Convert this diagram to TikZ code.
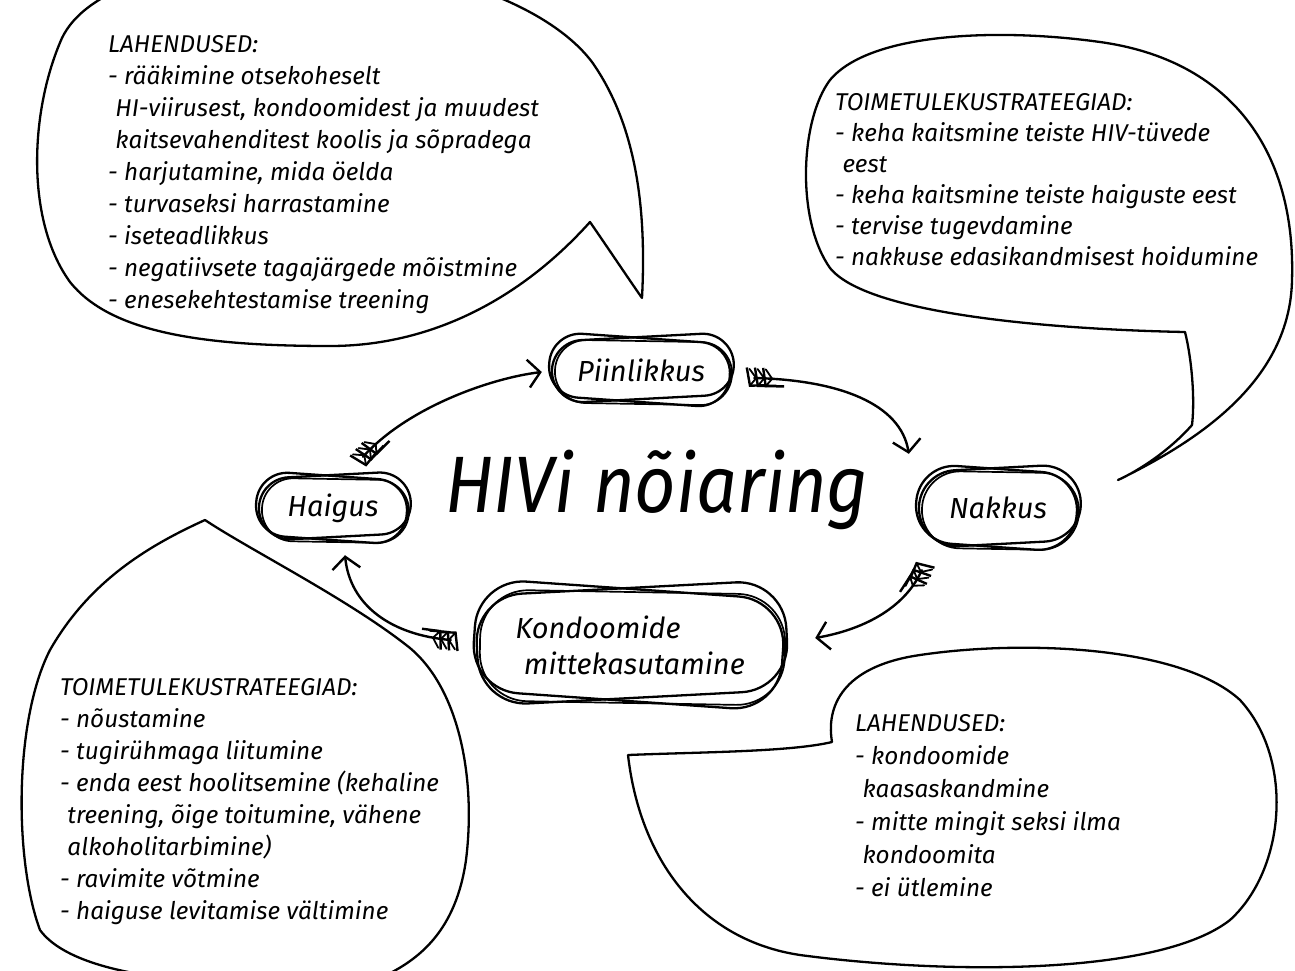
\documentclass[tikz,border=0pt]{standalone}
\usepackage{fontspec}
\setmainfont{Fira Sans}
\usetikzlibrary{arrows.meta,decorations.markings,calc}

% one pair of feather strokes at the tail of a cycle arrow
\newcommand\featherv{\draw[line width=1.8pt, line cap=round] (-7,-9) -- (0,0) -- (-7,9);}

\tikzset{
  inkline/.style={line width=2.2pt, line cap=round, line join=round},
  bubble/.style={inkline, line width=2.3pt},
  loopline/.style={line width=2.3pt, line cap=round, rounded corners=#1},
  listtext/.style={anchor=north west, inner sep=0pt, align=left,
    font=\fontsize{24.3}{32}\selectfont\itshape},
  nodetext/.style={inner sep=0pt, align=left,
    font=\fontsize{29}{36}\selectfont\itshape},
  cyclearrow/.style={inkline, line width=2.4pt,
    -{Straight Barb[length=12pt,width=28pt,line width=2.4pt]},
    postaction={decorate},
    decoration={markings,
      mark=at position 2pt with {\featherv},
      mark=at position 10pt with {\featherv},
      mark=at position 18pt with {\featherv}}},
}

\begin{document}
\begin{tikzpicture}[x=1pt,y=-1pt]
\useasboundingbox (0,0) rectangle (1295,970);
\clip (0,0) rectangle (1295,970);
\fill[white] (0,0) rectangle (1295,970);

% ---------- speech bubbles ----------
% upper left, tail pointing down to "Piinlikkus"
\draw[bubble] (642,298) .. controls (646,220) and (640,130) .. (592,62)
  .. controls (545,0) and (420,-40) .. (300,-40)
  .. controls (170,-40) and (85,-10) .. (62,38)
  .. controls (30,110) and (25,220) .. (70,282)
  .. controls (110,332) and (200,346) .. (330,346)
  .. controls (430,346) and (520,300) .. (590,222)
  .. controls (608,248) and (628,278) .. (642,298);

% upper right, tail pointing down to "Nakkus"
\draw[bubble] (1118,480) .. controls (1200,440) and (1290,380) .. (1292,280)
  .. controls (1296,150) and (1230,60) .. (1100,42)
  .. controls (1000,28) and (870,32) .. (830,80)
  .. controls (800,120) and (796,220) .. (830,268)
  .. controls (870,318) and (1080,330) .. (1185,332)
  .. controls (1192,360) and (1195,400) .. (1192,425)
  .. controls (1170,450) and (1140,470) .. (1118,480);

% lower left, tail pointing up to "Haigus"
\draw[bubble] (205,520) .. controls (250,550) and (350,600) .. (410,648)
  .. controls (460,690) and (476,780) .. (466,860)
  .. controls (456,930) and (420,960) .. (380,978)
  .. controls (250,990) and (80,985) .. (40,930)
  .. controls (14,860) and (14,720) .. (50,650)
  .. controls (90,580) and (150,545) .. (205,520);

% lower right, tail pointing up to "Kondoomide mittekasutamine"
\draw[bubble] (628,755) .. controls (700,752) and (790,752) .. (832,742)
  .. controls (825,700) and (850,665) .. (920,655)
  .. controls (1020,640) and (1180,645) .. (1240,700)
  .. controls (1295,760) and (1285,870) .. (1230,920)
  .. controls (1160,975) and (950,975) .. (800,955)
  .. controls (700,940) and (640,860) .. (628,755);

% ---------- bubble texts ----------
\node[listtext] (tl) at (108,35) {LAHENDUSED:\\
- rääkimine otsekoheselt\\
\hspace*{0.3em}HI-viirusest, kondoomidest ja muudest\\
\hspace*{0.3em}kaitsevahenditest koolis ja sõpradega\\
- harjutamine, mida öelda\\
- turvaseksi harrastamine\\
- iseteadlikkus\\
- negatiivsete tagajärgede mõistmine\\
- enesekehtestamise treening};

\node[listtext, font=\fontsize{24.3}{31}\selectfont\itshape] (tr) at (835,93) {TOIMETULEKUSTRATEEGIAD:\\
- keha kaitsmine teiste HIV-tüvede\\
\hspace*{0.3em}eest\\
- keha kaitsmine teiste haiguste eest\\
- tervise tugevdamine\\
- nakkuse edasikandmisest hoidumine};

\node[listtext] (bl) at (60,678) {TOIMETULEKUSTRATEEGIAD:\\
- nõustamine\\
- tugirühmaga liitumine\\
- enda eest hoolitsemine (kehaline\\
\hspace*{0.3em}treening, õige toitumine, vähene\\
\hspace*{0.3em}alkoholitarbimine)\\
- ravimite võtmine\\
- haiguse levitamise vältimine};

\node[listtext, font=\fontsize{24.3}{33}\selectfont\itshape] (br) at (855,714) {LAHENDUSED:\\
- kondoomide\\
\hspace*{0.3em}kaasaskandmine\\
- mitte mingit seksi ilma\\
\hspace*{0.3em}kondoomita\\
- ei ütlemine};

% ---------- title ----------
\node[inner sep=0pt, font=\fontsize{80}{84}\selectfont\itshape, xscale=0.9] (title) at (657,490) {HIVi nõiaring};

% ---------- cycle nodes ----------
\node[nodetext, minimum width=186pt, minimum height=66pt] (pi) at (641,370) {Piinlikkus};
\node[nodetext, minimum width=156pt, minimum height=66pt] (ha) at (333,508) {Haigus};
\node[nodetext, minimum width=166pt, minimum height=80pt] (na) at (998,508) {Nakkus};
\node[nodetext, minimum width=314pt, minimum height=114pt] (ko) at (630,645) {Kondoomide\\\hspace*{0.3em}mittekasutamine};

% sketchy outlines round the cycle nodes
\foreach \n/\w/\h/\r in {pi/92/32/31, ha/77/32/31, na/82/39/38, ko/156/56/48} {
  \draw[loopline=\r pt, rotate around={-4:(\n.center)}]
    ($(\n.center)+(-\w,-\h)$) rectangle ($(\n.center)+(\w-3,\h)$);
  \draw[loopline=\r pt, rotate around={3:(\n.center)}]
    ($(\n.center)+(-\w+3,-\h-1)$) rectangle ($(\n.center)+(\w+1,\h-3)$);
  \draw[loopline=\r pt, line width=1.7pt, rotate around={-1:(\n.center)}]
    ($(\n.center)+(-\w+6,-\h+3)$) rectangle ($(\n.center)+(\w-1,\h+2)$);
}

% ---------- cycle arrows ----------
\draw[cyclearrow] ($(ha.north)+(30,-18)$) .. controls +(45,-50) and +(-50,6) .. ($(pi.west)+(-6,2)$);
\draw[cyclearrow] ($(pi.east)+(20,8)$) .. controls +(85,2) and +(-8,-50) .. ($(na.north west)+(-6,-14)$);
\draw[cyclearrow] ($(na.south west)+(7,22)$) .. controls +(-18,40) and +(45,-8) .. ($(ko.east)+(28,-7)$);
\draw[cyclearrow] ($(ko.west)+(-22,-5)$) .. controls +(-60,-5) and +(5,50) .. ($(ha.south)+(12,14)$);

\end{tikzpicture}
\end{document}
